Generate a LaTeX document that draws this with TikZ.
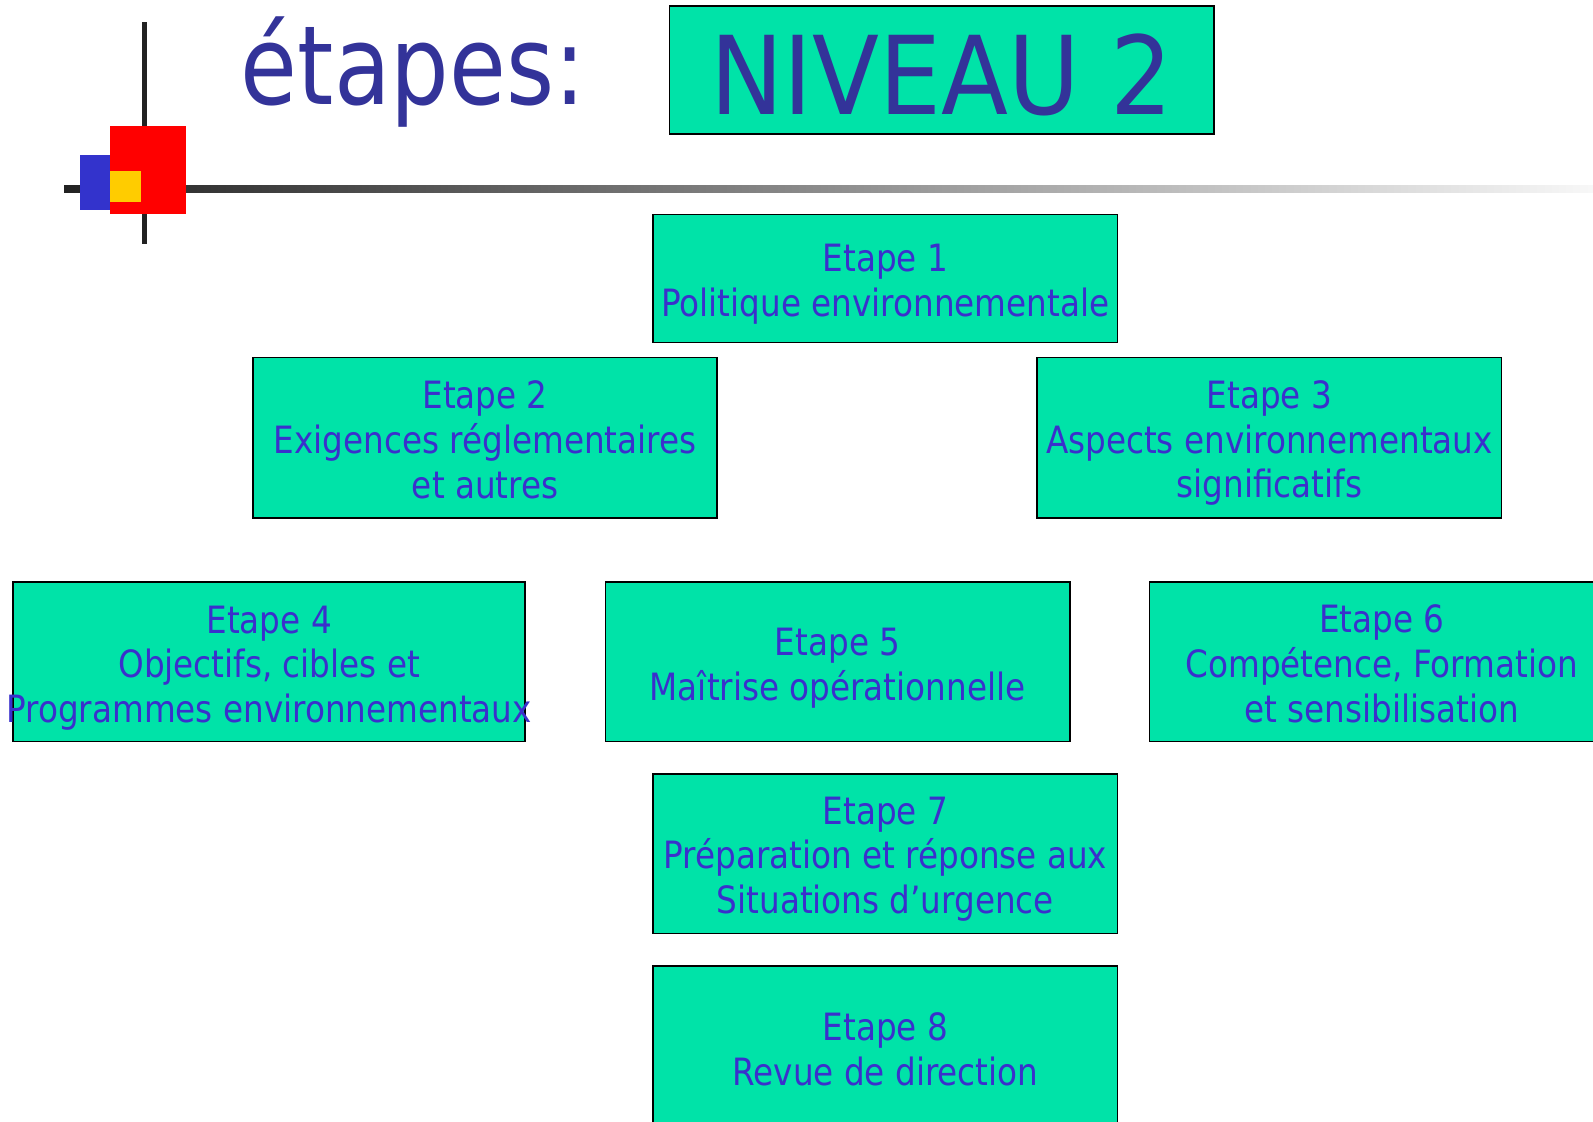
\documentclass[tikz,border=0pt]{standalone}
\usepackage{fontspec}
\setmainfont{DejaVu Sans Condensed}
\newfontfamily\boxfont{DejaVu Sans Condensed}[FakeStretch=0.965]
\newfontfamily\titlefont{DejaVu Sans Condensed}[FakeStretch=0.936]
\definecolor{boxfill}{HTML}{00E3A8}
\definecolor{boxtext}{HTML}{3A30CC}
\definecolor{titletext}{HTML}{333399}
\definecolor{logoblue}{HTML}{3333CC}
\definecolor{logored}{HTML}{FF0000}
\definecolor{logoyellow}{HTML}{FFCC00}
\definecolor{logoline}{HTML}{222222}
\begin{document}
\begin{tikzpicture}[x=1pt,y=-1pt,
  stepbox/.style={draw=black, line width=1.6pt, fill=boxfill, inner sep=0pt,
    minimum width=457pt, minimum height=157pt},
  steptext/.style={text=boxtext, align=center, inner sep=0pt,
    font=\boxfont\fontsize{37}{44}\selectfont}]
\useasboundingbox (0,0) rectangle (1568,1104);
% logo and rule
\shade[left color=logoline, right color=white!97!black] (63,183) rectangle (1568,189);
\fill[logoline] (140,22) rectangle (144.5,240);
\fill[logoblue] (79,153) rectangle (108,207);
\fill[logored] (108,124) rectangle (183,211);
\fill[logoyellow] (108,168) rectangle (139,199);
% title
\node[anchor=base west, text=titletext, inner sep=0pt,
  font=\titlefont\fontsize{108}{120}\selectfont] (title) at (237,103) {étapes:};
\node[draw=black, line width=1.6pt, fill=boxfill, text=titletext,
  minimum width=536pt, minimum height=126pt, inner sep=0pt,
  text height=88pt, text depth=0pt,
  font=\fontsize{107}{120}\selectfont] (niveau) at (927,69) {NIVEAU 2};
% step boxes
\node[stepbox, minimum height=126pt] (b1) at (871.5,274) {};
\node[stepbox, minimum height=158pt] (b2) at (477.5,431) {};
\node[stepbox, minimum height=158pt] (b3) at (1249.5,431) {};
\node[stepbox, minimum width=504pt] (b4) at (265,651.5) {};
\node[stepbox] (b5) at (824.5,651.5) {};
\node[stepbox] (b6) at (1360,651.5) {};
\node[stepbox] (b7) at (871.5,840.5) {};
\node[stepbox] (b8) at (871.5,1029.5) {};
% step texts
\node[steptext] (t1) at ([yshift=-6pt]b1.center) {Etape 1\\Politique environnementale};
\node[steptext] (t2) at ([yshift=-2pt]b2.center) {Etape 2\\Exigences réglementaires\\et autres};
\node[steptext] (t3) at ([yshift=-5pt]b3.center) {Etape 3\\Aspects environnementaux\\significatifs};
\node[steptext] (t4) at ([yshift=-6pt]b4.center) {Etape 4\\Objectifs, cibles et\\Programmes environnementaux};
\node[steptext] (t5) at ([yshift=-6pt]b5.center) {Etape 5\\Maîtrise opérationnelle};
\node[steptext] (t6) at ([yshift=-2pt]b6.center) {Etape 6\\Compétence, Formation\\et sensibilisation};
\node[steptext] (t7) at ([yshift=-5pt]b7.center) {Etape 7\\Préparation et réponse aux\\Situations d’urgence};
\node[steptext] (t8) at ([yshift=-3pt]b8.center) {Etape 8\\Revue de direction};
\end{tikzpicture}
\end{document}
